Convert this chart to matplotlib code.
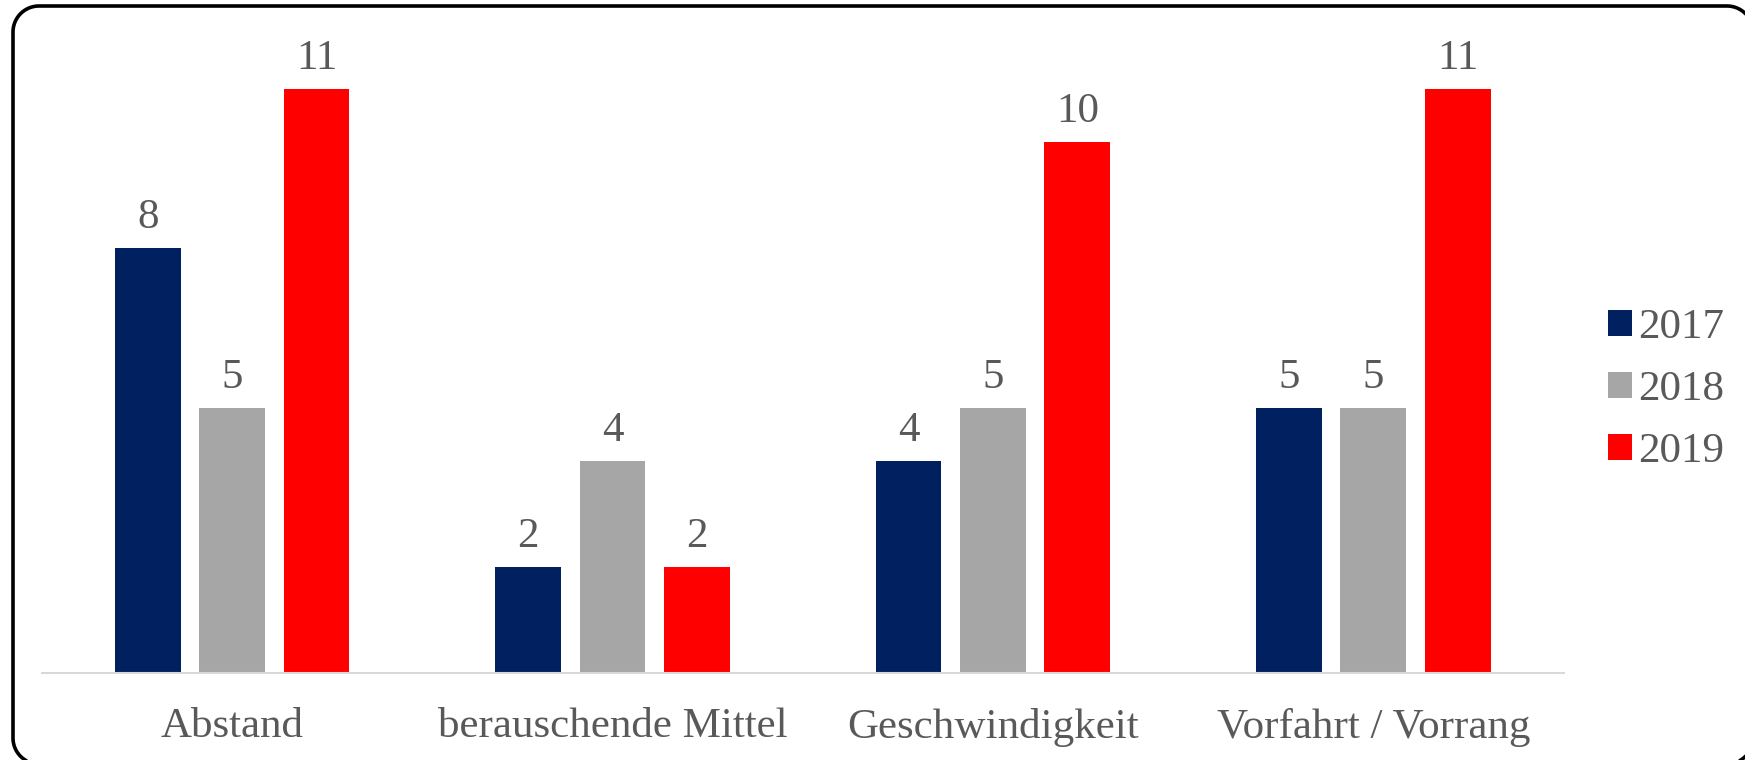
import matplotlib.pyplot as plt
import numpy as np
from matplotlib.lines import Line2D
from matplotlib.transforms import IdentityTransform

# data
categories = ['Abstand', 'berauschende Mittel', 'Geschwindigkeit', 'Vorfahrt / Vorrang']
years = ['2017', '2018', '2019']
v2017 = [8, 2, 4, 5]
v2018 = [5, 4, 5, 5]
v2019 = [11, 2, 10, 11]
colors = ['#002060', '#a6a6a6', '#ff0000']

plt.rcParams['font.family'] = ['Liberation Serif', 'DejaVu Serif']
txt = '#595959'
fs = 31

fig = plt.figure(figsize=(17.45, 7.6), dpi=100)
ax = fig.add_axes([0.024, 0.1145, 0.872, 0.838])

x = np.arange(len(categories))
w = 0.173
step = 0.222
for i, (vals, c, lab) in enumerate(zip([v2017, v2018, v2019], colors, years)):
    bars = ax.bar(x + (i - 1) * step, vals, width=w, color=c, label=lab, linewidth=0)
    for b, v in zip(bars, vals):
        ax.annotate(str(v), (b.get_x() + b.get_width() / 2, v), xytext=(0, 8),
                    textcoords='offset points', ha='center', va='bottom',
                    fontsize=fs, color=txt)

ax.set_xlim(-0.5, 3.5)
ax.set_ylim(0, 12)
ax.set_yticks([])
ax.set_xticks(x)
ax.set_xticklabels(categories, fontsize=fs, color=txt)
ax.tick_params(axis='x', length=0, pad=25)
for s in ['top', 'right', 'left']:
    ax.spines[s].set_visible(False)
ax.spines['bottom'].set_color('#d9d9d9')
ax.spines['bottom'].set_linewidth(1.5)

leg = fig.legend(loc='center left', bbox_to_anchor=(0.9215, 0.487), frameon=False,
                 fontsize=fs, handlelength=0.55, handleheight=0.55,
                 handletextpad=0.15, labelspacing=0.55, borderpad=0, borderaxespad=0)
for t in leg.get_texts():
    t.set_color(txt)

# rounded frame (pixels, y up); right side runs off the canvas so it is left out
L, R, T, B, r = 13, 1753, 754, -4, 26
def arc(cx, cy, a0, a1):
    a = np.radians(np.linspace(a0, a1, 30))
    return cx + r * np.cos(a), cy + r * np.sin(a)
pts = [arc(R - r, T - r, 0, 90), arc(L + r, T - r, 90, 180),
       arc(L + r, B + r, 180, 270), arc(R - r, B + r, 270, 360)]
bx = np.concatenate([p[0] for p in pts])
by = np.concatenate([p[1] for p in pts])
frame = Line2D(bx, by, transform=IdentityTransform(), color='black', linewidth=2.6,
               solid_capstyle='butt', solid_joinstyle='round')
frame.set_in_layout(False)
fig.add_artist(frame)

fig.savefig('out.png', dpi=100)
